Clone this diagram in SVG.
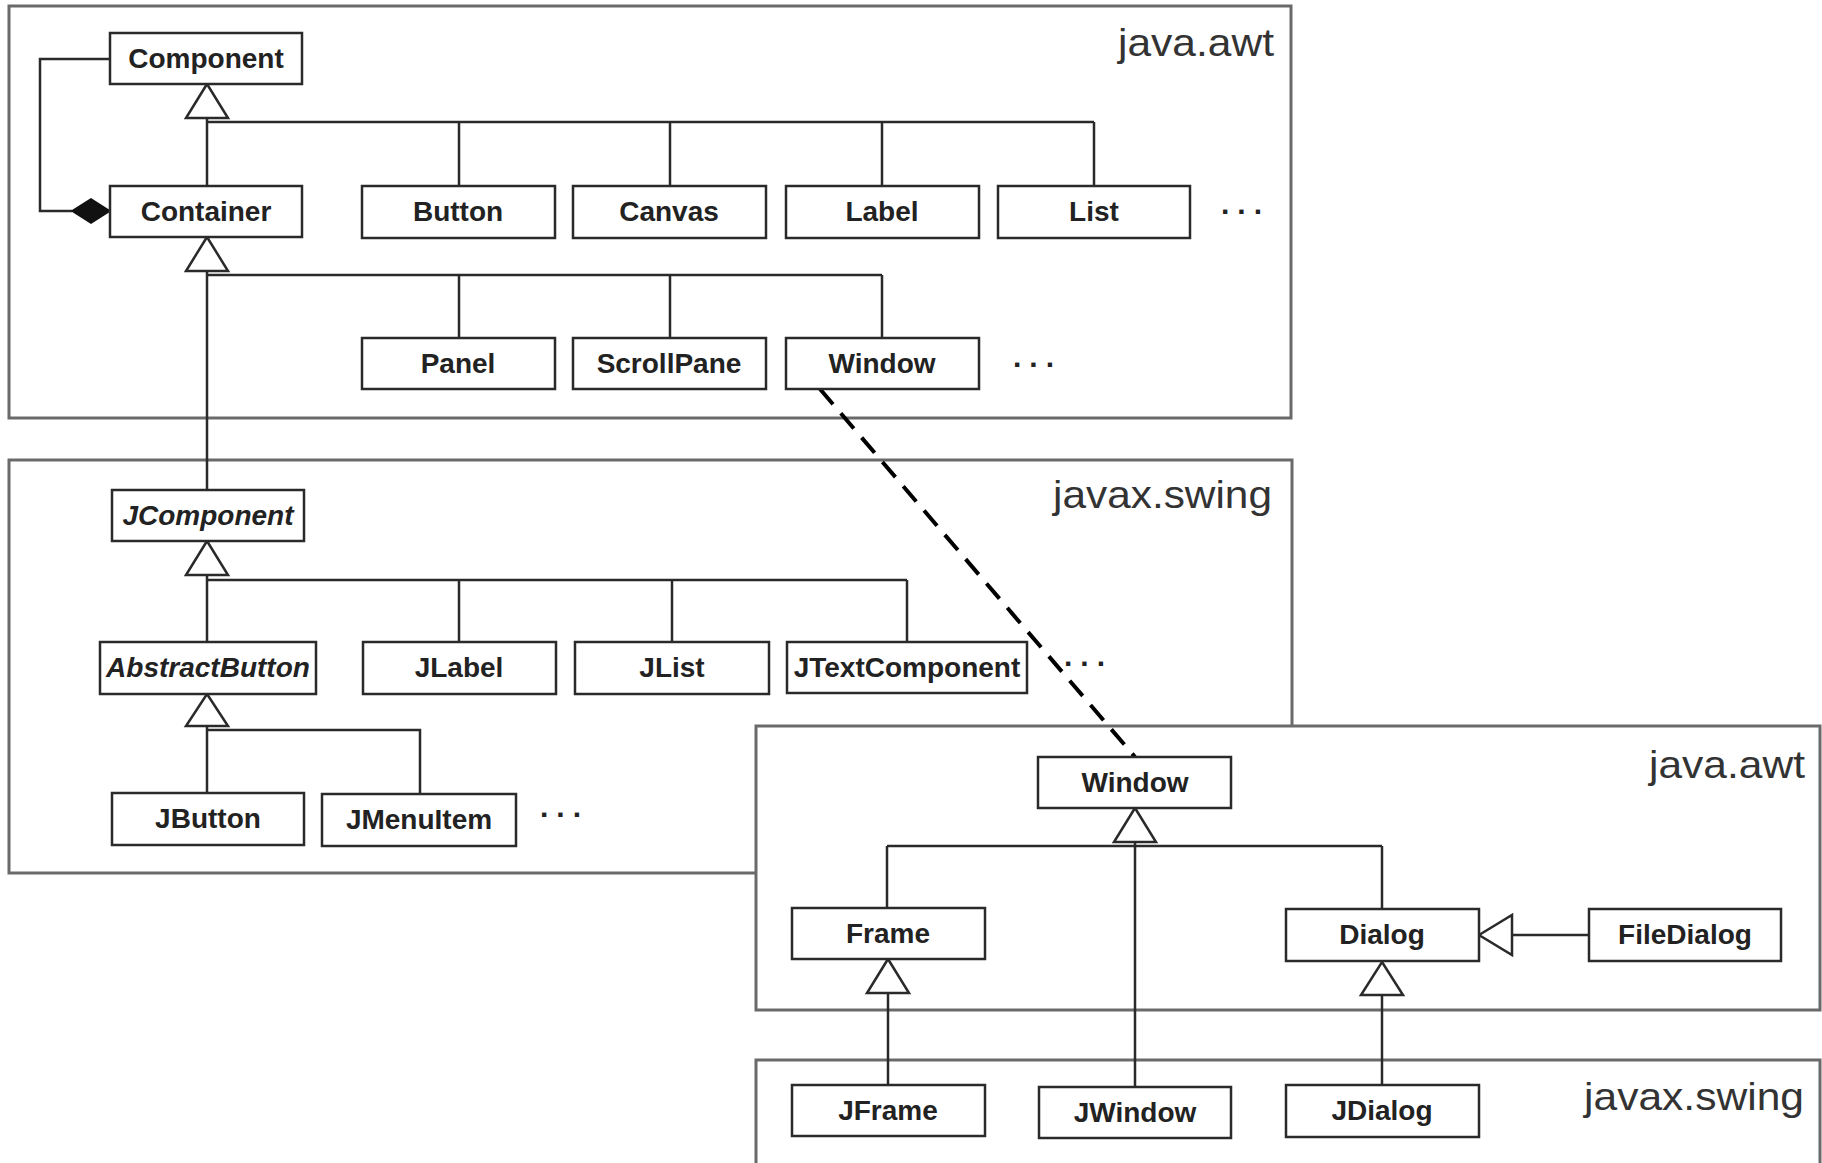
<svg xmlns="http://www.w3.org/2000/svg" width="1822" height="1163" viewBox="0 0 1822 1163">
<defs>
<style>
.pkg{fill:#fff;stroke:#6a6a6a;stroke-width:3}
.pkgl{font-family:"Liberation Sans",Arial,sans-serif;font-size:39px;fill:#333}
.box{fill:#fff;stroke:#2a2a2a;stroke-width:2.5}
.t{font-family:"Liberation Sans",Arial,sans-serif;font-size:28px;font-weight:bold;fill:#222;text-anchor:middle}
.i{font-style:italic}
.dots{font-family:"Liberation Sans",Arial,sans-serif;font-size:30px;font-weight:bold;fill:#222;letter-spacing:8px}
.ln{fill:none;stroke:#2a2a2a;stroke-width:2.5}
.tri{fill:#fff;stroke:#2a2a2a;stroke-width:2.5;stroke-linejoin:miter}
.dia{fill:#111;stroke:#111;stroke-width:1.5}
.dash{fill:none;stroke:#000;stroke-width:4;stroke-dasharray:20 12}
</style>
</defs>
<rect width="1822" height="1163" fill="#fff"/>

<g id="packages">
<g id="pkg-awt-top"><rect class="pkg" x="9" y="6" width="1282" height="412"/><text class="pkgl" x="1118" y="56" textLength="156" lengthAdjust="spacingAndGlyphs">java.awt</text></g>
<g id="pkg-swing-top"><rect class="pkg" x="9" y="460" width="1283" height="413"/><text class="pkgl" x="1053" y="508" textLength="219" lengthAdjust="spacingAndGlyphs">javax.swing</text></g>
<g id="pkg-awt-bottom"><rect class="pkg" x="756" y="726" width="1064" height="284"/><text class="pkgl" x="1649" y="778" textLength="156" lengthAdjust="spacingAndGlyphs">java.awt</text></g>
<g id="pkg-swing-bottom"><rect class="pkg" x="756" y="1060" width="1064" height="120"/><text class="pkgl" x="1584" y="1110" textLength="220" lengthAdjust="spacingAndGlyphs">javax.swing</text></g>
</g>

<g id="connectors">
<path class="ln" d="M207,118 V186 M207,122 H1094 M459,122 V186 M670,122 V186 M882,122 V186 M1094,122 V186"/>
<polygon class="tri" points="207,84 228,118 186,118"/>
<path class="ln" d="M207,271 V490 M207,275 H882 M459,275 V338 M670,275 V338 M882,275 V338"/>
<polygon class="tri" points="207,237 228,271 186,271"/>
<path class="ln" d="M110,59 H40 V211 H72"/>
<polygon class="dia" points="72,211 91,199 110,211 91,223"/>
<path class="ln" d="M207,575 V642 M207,580 H907 M459,580 V642 M672,580 V642 M907,580 V642"/>
<polygon class="tri" points="207,541 228,575 186,575"/>
<path class="ln" d="M207,726 V793 M207,730 H420 V794"/>
<polygon class="tri" points="207,694 228,726 186,726"/>
<path class="ln" d="M1135,842 V1087 M887,846 H1382 M887,846 V908 M1382,846 V909"/>
<polygon class="tri" points="1135,808 1156,842 1114,842"/>
<path class="ln" d="M888,993 V1085"/>
<polygon class="tri" points="888,959 909,993 867,993"/>
<path class="ln" d="M1382,995 V1085"/>
<polygon class="tri" points="1382,962 1403,995 1361,995"/>
<path class="ln" d="M1512,935 H1589"/>
<polygon class="tri" points="1479,935 1512,915 1512,955"/>
<path class="dash" d="M820,389 L1135,757"/>
</g>

<g id="n-component"><rect class="box" x="110" y="33" width="192" height="51"/><text class="t" x="206" y="68">Component</text></g>
<g id="n-container"><rect class="box" x="110" y="186" width="192" height="51"/><text class="t" x="206" y="221">Container</text></g>
<g id="n-button"><rect class="box" x="362" y="186" width="193" height="52"/><text class="t" x="458" y="221">Button</text></g>
<g id="n-canvas"><rect class="box" x="573" y="186" width="193" height="52"/><text class="t" x="669" y="221">Canvas</text></g>
<g id="n-label"><rect class="box" x="786" y="186" width="193" height="52"/><text class="t" x="882" y="221">Label</text></g>
<g id="n-list"><rect class="box" x="998" y="186" width="192" height="52"/><text class="t" x="1094" y="221">List</text></g>
<text class="dots" x="1221" y="214">...</text>
<g id="n-panel"><rect class="box" x="362" y="338" width="193" height="51"/><text class="t" x="458" y="373">Panel</text></g>
<g id="n-scrollpane"><rect class="box" x="573" y="338" width="193" height="51"/><text class="t" x="669" y="373">ScrollPane</text></g>
<g id="n-window-top"><rect class="box" x="786" y="338" width="193" height="51"/><text class="t" x="882" y="373">Window</text></g>
<text class="dots" x="1013" y="367">...</text>

<g id="n-jcomponent"><rect class="box" x="112" y="490" width="192" height="51"/><text class="t i" x="208" y="525">JComponent</text></g>
<g id="n-abstractbutton"><rect class="box" x="100" y="642" width="216" height="52"/><text class="t i" x="208" y="677">AbstractButton</text></g>
<g id="n-jlabel"><rect class="box" x="363" y="642" width="193" height="52"/><text class="t" x="459" y="677">JLabel</text></g>
<g id="n-jlist"><rect class="box" x="575" y="642" width="194" height="52"/><text class="t" x="672" y="677">JList</text></g>
<g id="n-jtextcomponent"><rect class="box" x="787" y="642" width="240" height="51"/><text class="t" x="907" y="677">JTextComponent</text></g>
<text class="dots" x="1064" y="666">...</text>
<g id="n-jbutton"><rect class="box" x="112" y="793" width="192" height="52"/><text class="t" x="208" y="828">JButton</text></g>
<g id="n-jmenuitem"><rect class="box" x="322" y="794" width="194" height="52"/><text class="t" x="419" y="829">JMenuItem</text></g>
<text class="dots" x="540" y="817">...</text>

<g id="n-window-bottom"><rect class="box" x="1038" y="757" width="193" height="51"/><text class="t" x="1135" y="792">Window</text></g>
<g id="n-frame"><rect class="box" x="792" y="908" width="193" height="51"/><text class="t" x="888" y="943">Frame</text></g>
<g id="n-dialog"><rect class="box" x="1286" y="909" width="193" height="52"/><text class="t" x="1382" y="944">Dialog</text></g>
<g id="n-filedialog"><rect class="box" x="1589" y="909" width="192" height="52"/><text class="t" x="1685" y="944">FileDialog</text></g>
<g id="n-jframe"><rect class="box" x="792" y="1085" width="193" height="51"/><text class="t" x="888" y="1120">JFrame</text></g>
<g id="n-jwindow"><rect class="box" x="1039" y="1087" width="192" height="51"/><text class="t" x="1135" y="1122">JWindow</text></g>
<g id="n-jdialog"><rect class="box" x="1286" y="1085" width="193" height="52"/><text class="t" x="1382" y="1120">JDialog</text></g>
</svg>
